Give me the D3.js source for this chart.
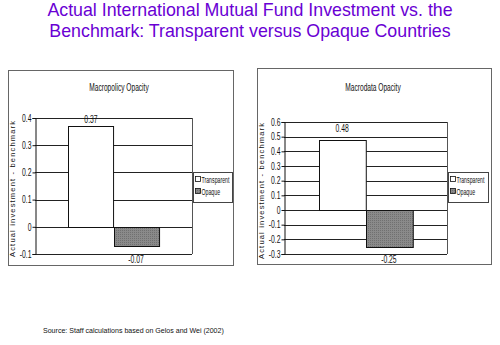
<!DOCTYPE html>
<html>
<head>
<meta charset="utf-8">
<script src="https://cdn.jsdelivr.net/npm/d3@7"></script>
<style>
  html, body { margin: 0; padding: 0; background: #fff; }
  svg { display: block; }
  .narrow { font-family: "Liberation Sans", Arial, sans-serif; }
</style>
</head>
<body>
<svg id="chart" width="500" height="345"></svg>
<script>
// Series and labels
const categories = ["Transparent", "Opaque"];
const macropolicyValues = [0.37, -0.07];
const macrodataValues = [0.48, -0.25];
const macropolicyTicks = [-0.1, 0, 0.1, 0.2, 0.3, 0.4];
const macrodataTicks = [-0.3, -0.2, -0.1, 0, 0.1, 0.2, 0.3, 0.4, 0.5, 0.6];
const panelTitles = ["Macropolicy Opacity", "Macrodata Opacity"];
const titleLines = ["Actual International Mutual Fund Investment vs. the",
                    "Benchmark: Transparent versus Opaque Countries"];
const yAxisTitle = "Actual investment - benchmark";
const sourceNote = "Source: Staff calculations based on Gelos and Wei (2002)";

const svg = d3.select("#chart");

// Squeeze glyphs horizontally to get a narrow face
function condense(sel, k) {
  sel.each(function () {
    const len = this.getComputedTextLength();
    d3.select(this).attr("textLength", len * k).attr("lengthAdjust", "spacingAndGlyphs");
  });
}

// Dotted texture for the opaque series
const defs = svg.append("defs");
const pat = defs.append("pattern").attr("id", "dots").attr("width", 2).attr("height", 2)
  .attr("patternUnits", "userSpaceOnUse");
pat.append("rect").attr("width", 2).attr("height", 2).attr("fill", "#8a8a8a");
pat.append("rect").attr("width", 1).attr("height", 1).attr("fill", "#707070");

const fills = { "Transparent": "#ffffff", "Opaque": "url(#dots)" };

// Main title
svg.append("g").selectAll("text").data(titleLines).join("text")
  .attr("x", 250).attr("y", (d, i) => 16 + i * 21)
  .attr("text-anchor", "middle")
  .attr("font-family", "'Liberation Sans', Arial, sans-serif")
  .attr("font-size", 17.8).attr("fill", "#6a00d4")
  .text(d => d);

function drawPanel(opt) {
  const g = svg.append("g").attr("class", "narrow");
  // panel frame
  g.append("rect").attr("x", opt.box[0] + 0.5).attr("y", opt.box[1] + 0.5)
    .attr("width", opt.box[2] - opt.box[0]).attr("height", opt.box[3] - opt.box[1])
    .attr("fill", "#fff").attr("stroke", "#666").attr("stroke-width", 1);

  g.append("text").attr("x", opt.titleX).attr("y", 91).attr("text-anchor", "middle")
    .attr("font-size", 10).attr("fill", "#111").text(opt.title)
    .call(condense, 0.66);

  const y = d3.scaleLinear().domain(d3.extent(opt.ticks)).range([opt.plot[3], opt.plot[1]]);
  const w = opt.plot[2] - opt.plot[0];
  const x = d3.scaleBand().domain(categories)
    .range([opt.plot[0] + w * 0.213, opt.plot[2] - w * 0.213]).paddingInner(0);

  // gridlines
  g.append("g").selectAll("line").data(opt.ticks).join("line")
    .attr("x1", opt.plot[0]).attr("x2", opt.plot[2])
    .attr("y1", d => Math.round(y(d)) + 0.5).attr("y2", d => Math.round(y(d)) + 0.5)
    .attr("stroke", "#222").attr("stroke-width", 1);
  // plot frame right
  g.append("line").attr("x1", opt.plot[2] + 0.5).attr("x2", opt.plot[2] + 0.5)
    .attr("y1", y(opt.ticks[opt.ticks.length - 1])).attr("y2", y(opt.ticks[0]))
    .attr("stroke", "#555");

  // bars
  const rows = categories.map((c, i) => ({ c, v: opt.values[i] }));
  g.append("g").selectAll("rect").data(rows).join("rect")
    .attr("x", d => Math.round(x(d.c)) + 0.5)
    .attr("y", d => Math.round(y(Math.max(0, d.v))) + 0.5)
    .attr("width", x.bandwidth())
    .attr("height", d => Math.abs(Math.round(y(d.v)) - Math.round(y(0))))
    .attr("fill", d => fills[d.c]).attr("stroke", "#111").attr("stroke-width", 1);

  // value labels
  g.append("g").selectAll("text").data(rows).join("text")
    .attr("x", d => x(d.c) + x.bandwidth() / 2)
    .attr("y", d => d.v >= 0 ? y(d.v) - opt.posLift : y(opt.ticks[0]) + 9)
    .attr("text-anchor", "middle").attr("font-size", 10).attr("fill", "#111")
    .text(d => String(d.v))
    .call(condense, 0.68);

  // y axis
  const axis = d3.axisLeft(y).tickValues(opt.ticks).tickSize(3).tickFormat(d => String(d));
  const ag = g.append("g").attr("transform", `translate(${opt.plot[0] + 0.5},0)`).call(axis);
  ag.select(".domain").attr("stroke", "#111");
  ag.selectAll(".tick line").attr("stroke", "#111");
  ag.selectAll(".tick text").attr("font-size", 10).attr("fill", "#111")
    .attr("font-family", null).attr("x", -4)
    .call(condense, 0.68);

  // y axis title, widely spaced
  const cy = (opt.plot[1] + opt.plot[3]) / 2 + 3;
  g.append("text").attr("transform", `translate(${opt.labelX},${cy}) rotate(-90)`)
    .attr("text-anchor", "middle").attr("font-size", 7.5).attr("fill", "#111")
    .attr("textLength", 136).attr("lengthAdjust", "spacing")
    .text(yAxisTitle);

  // legend
  const lg = g.append("g");
  lg.append("rect").attr("x", opt.legend[0] + 0.5).attr("y", opt.legend[1] + 0.5)
    .attr("width", opt.legend[2]).attr("height", opt.legend[3])
    .attr("fill", "#fff").attr("stroke", "#444");
  const items = lg.selectAll("g").data(categories).join("g")
    .attr("transform", (d, i) => `translate(${opt.legend[0] + 2},${opt.legend[1] + 10 + i * 12})`);
  items.append("rect").attr("x", 0.5).attr("y", -5.5).attr("width", 5).attr("height", 5)
    .attr("fill", d => fills[d]).attr("stroke", "#111").attr("stroke-width", 0.8);
  items.append("text").attr("transform", "translate(6.5,1) scale(0.58,1)")
    .attr("font-size", 9).attr("fill", "#111")
    .text(d => d);
}

drawPanel({
  box: [8, 70, 233, 265], plot: [35, 118, 192, 254], title: panelTitles[0], titleX: 119,
  values: macropolicyValues, ticks: macropolicyTicks, labelX: 15,
  legend: [193, 172, 39, 30], posLift: 3
});
drawPanel({
  box: [257, 68, 491, 264], plot: [284, 122, 447, 254], title: panelTitles[1], titleX: 373,
  values: macrodataValues, ticks: macrodataTicks, labelX: 264,
  legend: [448, 172, 40, 30], posLift: 8
});

// source note
svg.append("text").attr("class", "narrow").attr("x", 43).attr("y", 333)
  .attr("font-size", 7.5).attr("fill", "#111").text(sourceNote)
  .call(condense, 0.94);
</script>
</body>
</html>
